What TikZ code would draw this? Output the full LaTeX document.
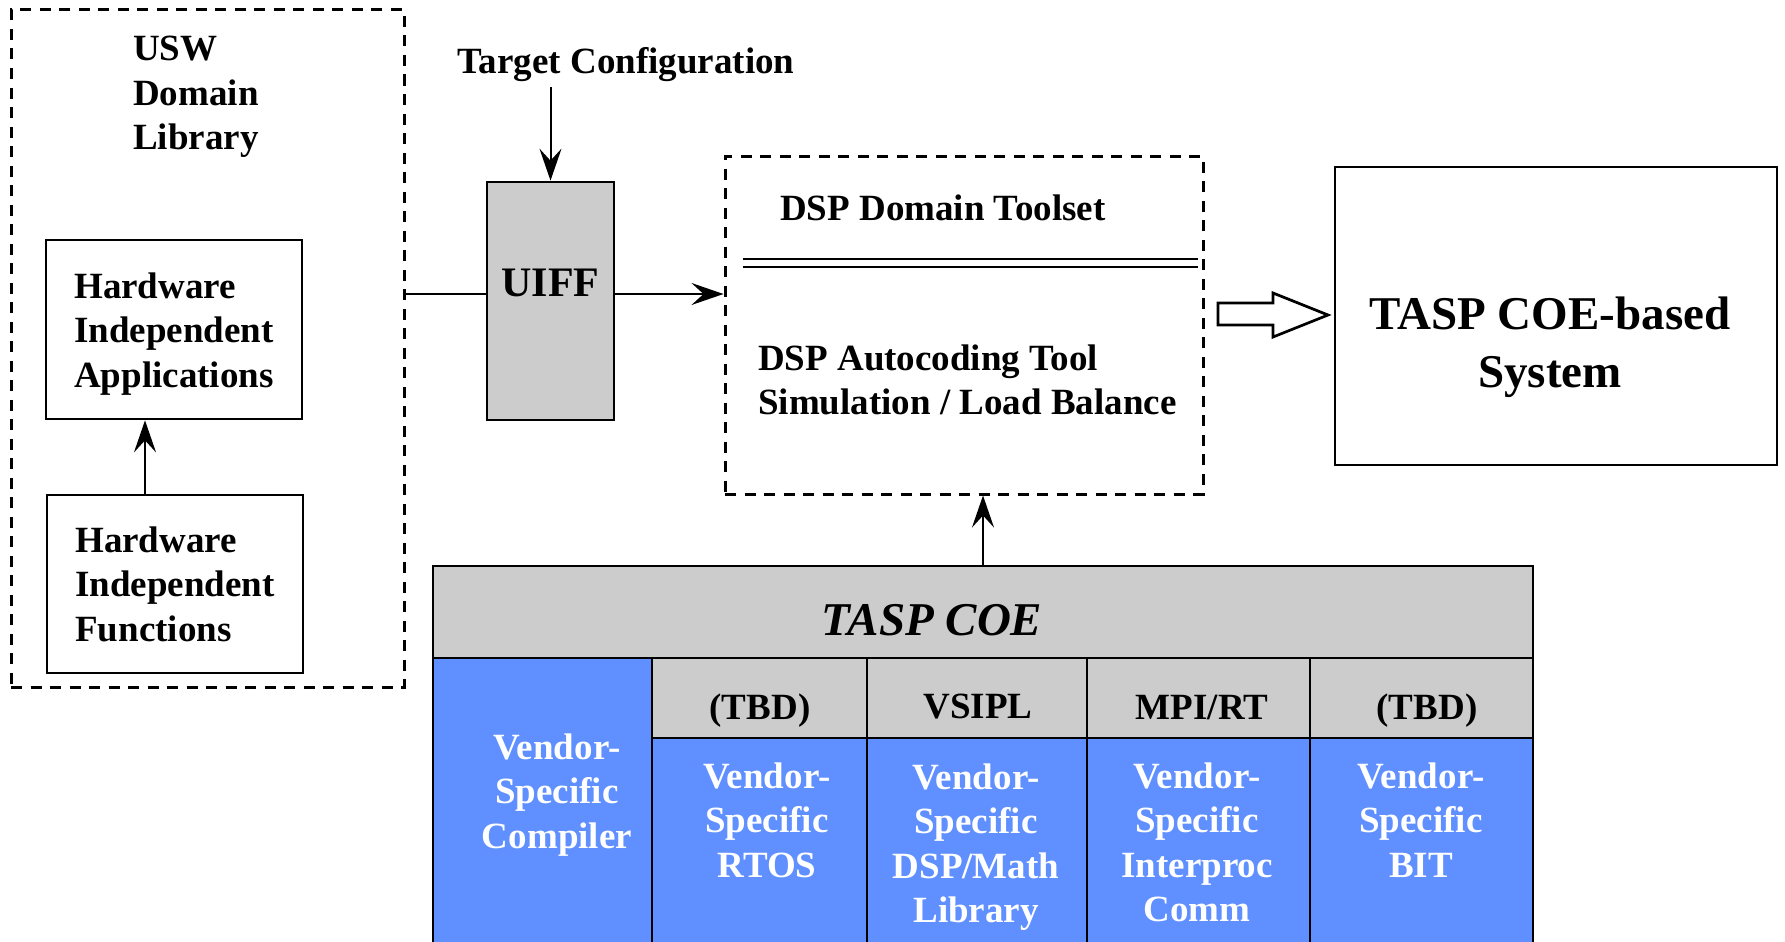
\documentclass[tikz,border=0pt]{standalone}
\usepackage{fontspec}
\setmainfont{Liberation Serif}
\usetikzlibrary{arrows.meta}
\definecolor{boxgray}{HTML}{CCCCCC}
\definecolor{vendblue}{HTML}{6090FF}
\tikzset{
  lw/.style={line width=2.7pt},
  dashbox/.style={draw, line width=3pt, dash pattern=on 11pt off 8.5pt, inner sep=0pt},
  solidbox/.style={draw, line width=2.7pt, inner sep=0pt},
  graybox/.style={solidbox, fill=boxgray},
  txt/.style={font=\bfseries\fontsize{37}{44.5}\selectfont, inner sep=0pt, align=left},
  ctxt/.style={font=\bfseries\fontsize{37}{44.5}\selectfont, inner sep=0pt, align=center},
  wtxt/.style={ctxt, text=white},
  bigtxt/.style={font=\bfseries\fontsize{47}{58}\selectfont, inner sep=0pt, align=center},
  conn/.style={line width=2pt, -{Stealth[length=32pt,width=22pt,inset=12pt]}},
  plain/.style={line width=2pt},
}
\begin{document}
\begin{tikzpicture}[x=1pt,y=-1pt]
\useasboundingbox (0,0) rectangle (1785,942);

% USW domain library
\node[dashbox, minimum width=393pt, minimum height=677pt] (usw) at (207.5,348.5) {};
\node[txt, anchor=west] (uswt) at (133,97) {USW\\Domain\\Library};
\node[solidbox, minimum width=256pt, minimum height=179pt, txt] (hia) at (174,329.5) {};
\node[txt] (hiat) at (174,334) {Hardware\\Independent\\Applications};
\node[solidbox, minimum width=256pt, minimum height=178pt, txt] (hif) at (175,584) {Hardware\\Independent\\Functions};
\draw[conn] (hif.north -| 145,0) -- (hia.south -| 145,0);

% UIFF
\node[ctxt] (tc) at (626,65) {Target Configuration};
\node[graybox, minimum width=127pt, minimum height=238pt] (uiff) at (550.5,301) {};
\node[font=\bfseries\fontsize{42}{50}\selectfont, inner sep=0pt] (uifft) at (550.5,283) {UIFF};
\draw[conn] ([yshift=-5pt]uiff.north |- tc.south) -- (uiff.north);

% DSP domain toolset
\node[dashbox, minimum width=478pt, minimum height=338pt] (dsp) at (964,325) {};
\node[txt, anchor=west] (dspt) at (780,208) {DSP Domain Toolset};
\draw[lw, double, double distance=5.5pt] (743,263) -- (1198,263);
\node[txt, anchor=west] (dspa) at (758,380) {DSP Autocoding Tool\\Simulation / Load Balance};

\coordinate (ln) at (487,294);
\draw[plain] (usw.east |- ln) -- (uiff.west |- ln);
\draw[conn] (uiff.east |- ln) -- (dsp.west |- ln);

% hollow arrow
\draw[lw, line join=miter] (1218,303) -- (1273,303) -- (1273,293) -- (1328,315) -- (1273,337) -- (1273,325) -- (1218,325) -- cycle;

% TASP COE-based system
\node[solidbox, minimum width=442pt, minimum height=298pt] (sys) at (1556,316) {};
\node[bigtxt] (syst) at (1550,347) {TASP COE-based\\System};

% TASP COE
\fill[vendblue] (433,658) rectangle (1533,942);
\node[graybox, minimum width=1100pt, minimum height=92pt] (coe) at (983,612) {};
\node[font=\bfseries\itshape\fontsize{47}{56}\selectfont, inner sep=0pt] (coet) at (932,620) {TASP COE};
\draw[conn] (coe.north) -- (coe.north |- dsp.south);

\node[graybox, minimum width=215pt, minimum height=80pt] (h1) at (759.5,698) {};
\node[graybox, minimum width=220pt, minimum height=80pt] (h2) at (977,698) {};
\node[graybox, minimum width=223pt, minimum height=80pt] (h3) at (1198.5,698) {};
\node[graybox, minimum width=223pt, minimum height=80pt] (h4) at (1421.5,698) {};
\node[ctxt] (h1t) at (760,711) {(TBD)};
\node[ctxt] (h2t) at (978,707) {VSIPL};
\node[ctxt] (h3t) at (1202,707) {MPI/RT};
\node[ctxt] (h4t) at (1427,711) {(TBD)};

\foreach \xx in {433,652,867,1087,1310,1533}
  \draw[lw] (\xx,657) -- (\xx,942);

\node[wtxt] (c0) at (557,795) {Vendor-\\Specific\\Compiler};
\node[wtxt] (c1) at (767,820) {Vendor-\\Specific\\RTOS};
\node[wtxt] (c2) at (976,847) {Vendor-\\Specific\\DSP/Math\\Library};
\node[wtxt] (c3) at (1197,842.5) {Vendor-\\Specific\\Interproc\\Comm};
\node[wtxt] (c4) at (1421,820) {Vendor-\\Specific\\BIT};
\end{tikzpicture}
\end{document}
